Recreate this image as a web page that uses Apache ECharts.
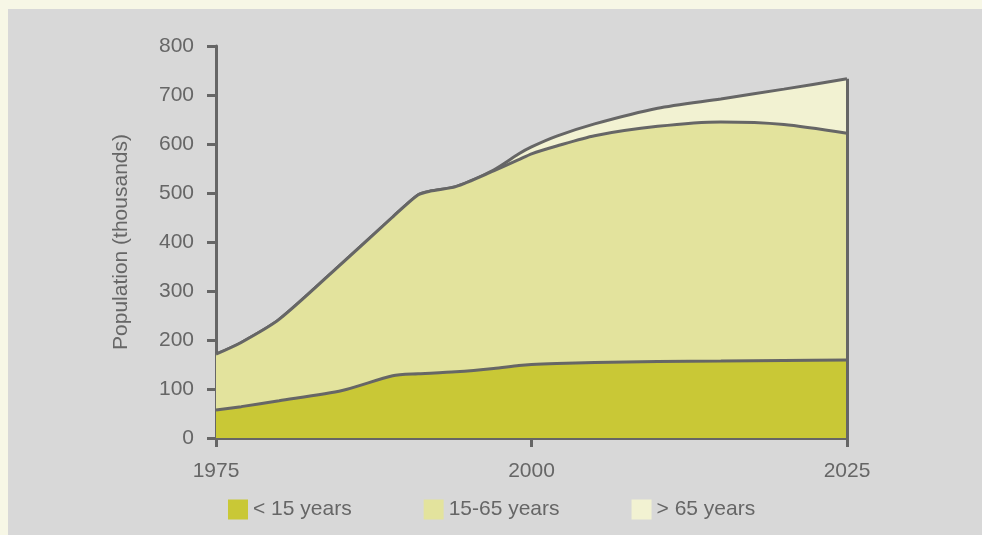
<!DOCTYPE html>
<html>
<head>
<meta charset="utf-8">
<script src="https://cdn.jsdelivr.net/npm/echarts@6/dist/echarts.min.js"></script>
<style>
  html, body { margin: 0; padding: 0; background: #f7f7e6; }
  #chart { width: 982px; height: 535px; }
</style>
</head>
<body>
<div id="chart"></div>
<script>
// years sampled along the curves
const years = [1975, 1977, 1980, 1985, 1989, 1991, 1992, 1994, 1997, 1999, 2000, 2002, 2005, 2010, 2015, 2020, 2025];
// population in thousands, per age group
const under15 = [57, 64, 76, 97, 127, 131, 132, 135, 142, 148, 150, 152, 154, 156, 157, 158, 159];
const age15to65 = [114, 131, 166, 260, 324, 365, 372, 378, 403, 420, 430, 444, 463, 480, 488, 482, 463];
const over65 = [0, 0, 0, 0, 0, 0, 0, 0, 2, 12, 14, 20, 24, 37, 47, 72, 111];
const xTicks = [1975, 2000, 2025];

const seriesNames = ["< 15 years", "15-65 years", "> 65 years"];
const fills = ["#c9c836", "#e3e39d", "#f2f2d2"];
const lineColor = "#666666";
const textColor = "#666666";
const font = "'Liberation Sans', Arial, sans-serif";

const chart = echarts.init(document.getElementById("chart"));

// stacked tops, computed by hand so each area can be filled from zero
const top1 = under15.slice();
const top2 = top1.map((v, i) => v + age15to65[i]);
const top3 = top2.map((v, i) => v + over65[i]);
const pairs = (arr) => years.map((y, i) => [y, arr[i]]);
const lastIdx = years.length - 1;

// draw the tallest first so the lower bands sit over it
const makeSeries = (name, data, fill, z, extra) => Object.assign({
  name: name,
  type: "line",
  data: pairs(data),
  z: z,
  smooth: 0.25,
  showSymbol: false,
  symbol: "none",
  lineStyle: { color: lineColor, width: 3 },
  itemStyle: { color: fill },
  areaStyle: { color: fill, opacity: 1 },
  emphasis: { disabled: true },
}, extra || {});

const option = {
  animation: false,
  graphic: [
    {
      type: "rect",
      z: -10,
      shape: { x: 8, y: 9, width: 980, height: 540 },
      style: { fill: "#d8d8d8" },
    },
  ],
  textStyle: { fontFamily: font },
  grid: { left: 216, right: 135, top: 46, bottom: 97 },
  legend: {
    left: 228,
    top: 499,
    padding: 0,
    icon: "rect",
    itemWidth: 20,
    itemHeight: 20,
    itemGap: 72,
    itemStyle: { borderWidth: 0 },
    textStyle: { color: textColor, fontSize: 21, fontFamily: font },
    data: seriesNames,
  },
  xAxis: {
    type: "value",
    min: 1975,
    max: 2025,
    interval: 25,
    splitLine: { show: false },
    axisLine: { lineStyle: { color: lineColor, width: 3 } },
    axisTick: { show: true, length: 9, lineStyle: { color: lineColor, width: 3 } },
    axisLabel: {
      color: textColor, fontSize: 21, margin: 23, fontFamily: font,
      formatter: (v) => (xTicks.indexOf(v) >= 0 ? String(v) : ""),
    },
  },
  yAxis: {
    type: "value",
    min: 0,
    max: 800,
    interval: 100,
    name: "Population (thousands)",
    nameLocation: "middle",
    nameGap: 84,
    nameTextStyle: { color: textColor, fontSize: 21, fontFamily: font },
    splitLine: { show: false },
    axisLine: { show: true, lineStyle: { color: lineColor, width: 3 } },
    axisTick: { show: true, length: 9, lineStyle: { color: lineColor, width: 3 } },
    axisLabel: { color: textColor, fontSize: 21, margin: 22, fontFamily: font },
  },
  series: [
    makeSeries(seriesNames[2], top3, fills[2], 2, {
      markLine: {
        silent: true,
        symbol: "none",
        label: { show: false },
        lineStyle: { color: lineColor, width: 3, type: "solid" },
        data: [[{ coord: [years[lastIdx], 0] }, { coord: [years[lastIdx], top3[lastIdx]] }]],
      },
    }),
    makeSeries(seriesNames[1], top2, fills[1], 3),
    makeSeries(seriesNames[0], top1, fills[0], 4),
  ],
};

chart.setOption(option);
</script>
</body>
</html>
